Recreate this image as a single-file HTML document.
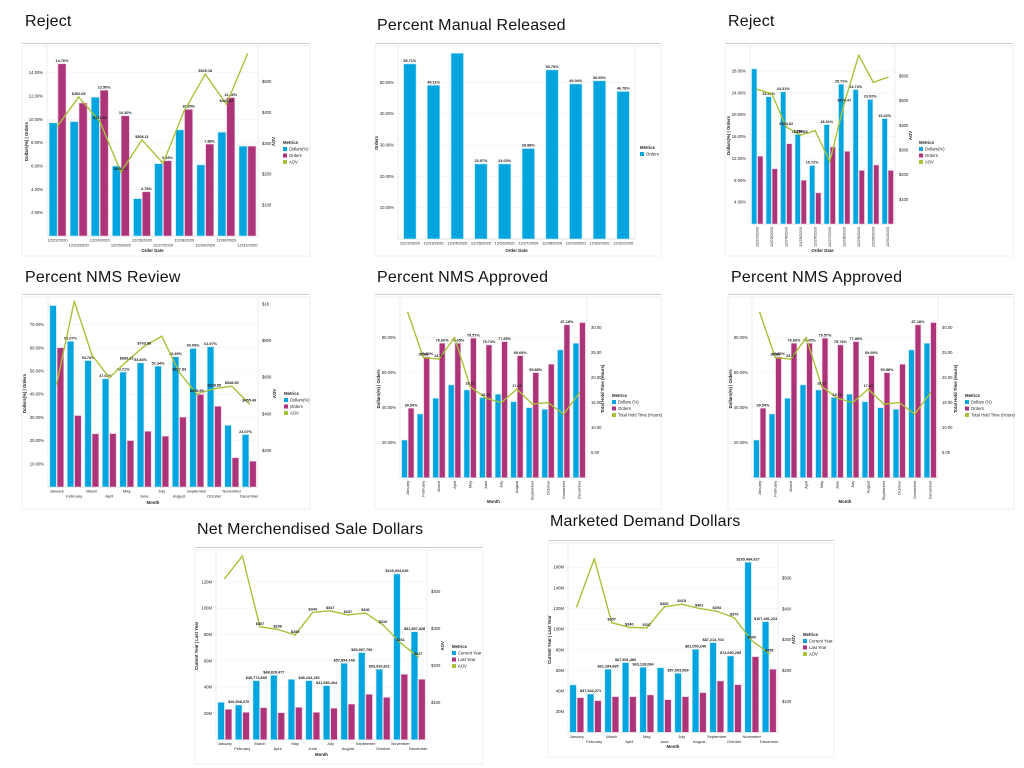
<!DOCTYPE html>
<html><head><meta charset="utf-8">
<style>
html,body{margin:0;padding:0;background:#fff;}
body{width:1024px;height:768px;overflow:hidden;position:relative;font-family:"Liberation Sans",sans-serif;}
.title{position:absolute;font-size:16px;color:#111;letter-spacing:0.2px;}
.rule{position:absolute;height:1px;background:#cfcfcf;}
svg{position:absolute;left:0;top:0;}
</style></head>
<body>
<div class="title" style="left:25px;top:13px;">Reject</div>
<div class="rule" style="left:22px;top:43px;width:288px;"></div>
<div class="title" style="left:377px;top:17px;">Percent Manual Released</div>
<div class="rule" style="left:375px;top:43px;width:286px;"></div>
<div class="title" style="left:728px;top:13px;">Reject</div>
<div class="rule" style="left:725px;top:43px;width:288px;"></div>
<div class="title" style="left:25px;top:269px;">Percent NMS Review</div>
<div class="rule" style="left:22px;top:294px;width:288px;"></div>
<div class="title" style="left:377px;top:269px;">Percent NMS Approved</div>
<div class="rule" style="left:375px;top:294px;width:286px;"></div>
<div class="title" style="left:731px;top:269px;">Percent NMS Approved</div>
<div class="rule" style="left:728px;top:294px;width:286px;"></div>
<div class="title" style="left:197px;top:521px;">Net Merchendised Sale Dollars</div>
<div class="rule" style="left:195px;top:547px;width:288px;"></div>
<div class="title" style="left:550px;top:513px;">Marketed Demand Dollars</div>
<div class="rule" style="left:548px;top:540px;width:286px;"></div>

<svg id="main" width="1024" height="768"></svg>

<script>
// ---------- data ----------
const dates = ["12/22/2020","12/23/2020","12/24/2020","12/25/2020","12/26/2020","12/27/2020","12/28/2020","12/29/2020","12/30/2020","12/31/2020"];
const months = ["January","February","March","April","May","June","July","August","September","October","November","December"];

const p1Dollars = [9.7,9.8,11.9,6.0,3.2,6.2,9.1,6.1,8.9,7.7];
const p1Orders = [14.76,11.4,12.5,10.3,3.79,6.45,10.85,7.88,11.86,7.7];
const p1Aov = [356,450,372,207,311,236,405,524,427,589];
const p1OrderLabels = ["14.76%",null,"12.50%","10.30%","3.79%","6.45%","10.85%","7.88%","11.86%",null];
const p1AovLabels = [null,"$452.65","$373.36","$208.47","$308.11",null,null,"$525.18","$423.84",null];
const p1LeftTicks = [2,4,6,8,10,12,14];
const p1RightTicks = [100,200,300,400,500];

const p2Orders = [55.9,49.1,59.3,23.96,23.96,28.9,54.0,49.5,50.5,47.1];
const p2Labels = ["55.71%","49.11%",null,"23.97%","24.03%","28.88%","53.75%","49.04%","50.00%","46.78%"];
const p2LeftTicks = [10,20,30,40,50];

const p3Dollars = [28.4,23.3,24.2,16.4,10.7,18.2,25.6,24.6,22.8,19.3];
const p3Orders = [12.4,10.1,14.7,8.0,5.7,14.1,13.3,9.8,10.8,9.8];
const p3Aov = [545,528,393,360,378,253,489,684,574,594];
const p3DollarLabels = [null,"23.96%","24.31%","16.75%","10.72%","18.31%","25.72%","24.74%","23.02%","19.42%"];
const p3AovLabels = [null,null,"$393.62","$359.25",null,null,"$470.47",null,null,null];
const p3LeftTicks = [4,8,12,16,20,24,28];
const p3RightTicks = [100,200,300,400,500,600];

const p4Dollars = [78.2,62.8,54.5,46.6,49.5,53.5,52.1,56.1,59.7,60.4,26.6,22.6];
const p4Orders = [60,30.8,22.9,23,20,24,21.9,30.1,39.9,34.8,12.6,11.1];
const p4Aov = [564,1015,724,597,687,769,824,627,509,537,551,455];
const p4DollarLabels = [null,"63.07%","54.78%","47.03%","49.71%","53.84%","52.34%","56.49%","60.09%","61.07%",null,"23.07%"];
const p4AovLabels = [null,null,null,null,"$689.22","$763.88",null,"$627.84","$508.99","$538.58","$548.55","$455.49"];
const p4LeftTicks = [10,20,30,40,50,60,70];
const p4RightTicks = [200,400,600,800,1000];
const p4RightTickLabels = ["$200","$400","$600","$800","$1K"];

const p5Dollars = [21.5,36.4,45.4,53,50.1,45.8,47.7,43.4,40,39.1,73,76.8];
const p5Orders = [39.7,69.1,76.8,76.8,79.7,75.8,77.7,69.7,60,64.8,87.3,88.6];
const p5Hold = [33,24,23.7,28,18.2,15.9,15,17.7,14.7,15,12.7,16.9];
const p5OrderLabels = ["39.54%","68.82%","76.60%","76.65%","79.57%","75.74%","77.85%","69.69%","59.88%",null,"87.18%",null];
const p5HoldLabels = [null,"23.83","23.71",null,"18.21","15.70",null,"17.44",null,null,null,null];
const p5LeftTicks = [20,40,60,80];
const p5RightTicks = [5,10,15,20,25,30];

const p7Current = [28.4,26.4,44.9,49,45.9,44.9,41.1,58.1,66.2,53.5,126,82.1];
const p7Last = [23.1,20.8,24.3,20.5,24.6,20.8,23.9,27.1,34.5,32.2,49.7,45.9];
const p7Aov = [436,496,305,298,283,344,348,337,342,310,261,224];
const p7CurrentLabels = [null,"$26,508,076","$45,774,895","$48,828,477",null,"$45,244,150","$41,080,404","$57,894,748","$65,997,796","$53,410,821","$125,934,626","$81,857,828"];
const p7AovLabels = [null,null,"$307","$298","$285","$344","$347","$337","$340","$310","$261","$227"];
const p7LeftTicks = [20,40,60,80,100,120];
const p7RightTicks = [100,200,300,400];

const p8Current = [45.9,37.1,61.1,67.5,63,62.6,57.2,80.5,86.9,74,164.8,107.2];
const p8Last = [33.5,30.6,34.5,34.5,36.2,31.6,34.5,38.4,49.7,46.1,73.3,61.1];
const p8Aov = [407,562,355,340,338,406,415,401,392,371,297,255];
const p8CurrentLabels = [null,"$37,342,271","$61,284,685","$67,501,480","$63,128,084",null,"$57,003,569","$81,059,240","$87,214,703","$74,050,285","$165,484,627","$107,491,224"];
const p8AovLabels = [null,null,"$357","$340","$337","$406","$415","$402","$393","$370","$300","$258"];
const p8LeftTicks = [20,40,60,80,100,120,140,160];
const p8RightTicks = [100,200,300,400,500];

// ---------- rendering ----------
const BLUE="#00a5e0", MAG="#ad3478", LIME="#a7c23a";
const svg=document.getElementById('main');
const NS="http://www.w3.org/2000/svg";
function mk(tag,attrs,parent){const e=document.createElementNS(NS,tag);for(const k in attrs)e.setAttribute(k,attrs[k]);parent.appendChild(e);return e;}
function txt(s,x,y,size,parent,extra){const t=mk('text',Object.assign({x:x,y:y,'font-size':size,'font-family':'Liberation Sans, sans-serif',fill:'#222'},extra||{}),parent);t.textContent=s;return t;}

function chart(c){
  const g=mk('g',{},svg);
  
  
  const card=mk('rect',{x:c.cx,y:c.cy,width:c.cw,height:c.ch,fill:'#fff',stroke:'#ececec','stroke-width':0.8},g);
  
  
  const n=c.cats.length, gw=(c.r-c.l)/n;
  const yL=v=>c.b-v/c.lMax*(c.b-c.t);
  const yR=v=>c.b-v/c.rMax*(c.b-c.t);
  // grid + left ticks
  c.lTicks.forEach((v,i)=>{
    const y=yL(v);
    const gl=mk('line',{x1:c.l,x2:c.r,y1:y,y2:y,stroke:'#f2f2f2','stroke-width':0.6},g);
    
    
    const t=txt(c.lFmt(v),c.l-4,y+1.5,4.2,g,{'text-anchor':'end'});
    
    
  });
  if(c.rTicks){c.rTicks.forEach((v,i)=>{
    const t=txt(c.rFmt(v,i),c.r+4,yR(v)+1.5,4.2,g);
    
    
  });}
  mk('line',{x1:c.l,x2:c.l,y1:c.t-2,y2:c.b,stroke:'#e4e4e4','stroke-width':0.7},g);
  mk('line',{x1:c.r,x2:c.r,y1:c.t-2,y2:c.b,stroke:'#e4e4e4','stroke-width':0.7},g);
  mk('line',{x1:c.l,x2:c.r,y1:c.b,y2:c.b,stroke:'#dcdcdc','stroke-width':0.7},g);
  // bars
  const ns=c.series.length;
  const bw=gw*(ns===1?0.56:0.42);
  c.series.forEach((s,si)=>{
    s.data.forEach((v,i)=>{
      const x=c.l+gw*i+gw/2-(ns*bw)/2+si*bw;
      const y=yL(v);
      const rc=mk('rect',{x:x+0.4,y:y,width:bw-0.8,height:c.b-y,fill:s.color,stroke:s.stroke,'stroke-width':0.6},g);
      
      
      if(s.labels&&s.labels[i]){
        const t=txt(s.labels[i],x+bw/2,y-1.8,3.8,g,{'text-anchor':'middle','font-weight':'bold'});
        
        
      }
    });
  });
  // line
  if(c.line){
    const pts=c.line.data.map((v,i)=>(c.l+gw*i+gw/2)+','+yR(v)).join(' ');
    const pl=mk('polyline',{points:pts,fill:'none',stroke:LIME,'stroke-width':1.4,'stroke-linejoin':'round'},g);
    
    
    c.line.data.forEach((v,i)=>{
      const x=c.l+gw*i+gw/2, y=yR(v);
      const p=mk('circle',{cx:x,cy:y,r:0.9,fill:LIME},g);
      
      
      if(c.line.labels&&c.line.labels[i]){
        const t=txt(c.line.labels[i],x,y-2,3.8,g,{'text-anchor':'middle','font-weight':'bold'});
        
        
      }
    });
  }
  // x labels
  c.cats.forEach((s,i)=>{
    const x=c.l+gw*i+gw/2;
    let t;
    if(c.rot){
      t=txt(s,x+1.3,c.b+3,4,g,{'text-anchor':'end',transform:'rotate(-90 '+(x+1.3)+' '+(c.b+3)+')'});
    } else {
      const y=c.b+5.5+(c.stagger&&i%2===1?5:0);
      t=txt(s,x,y,4,g,{'text-anchor':'middle'});
    }
    
    
  });
  // axis titles
  const xt=txt(c.xTitle,(c.l+c.r)/2,c.xTitleY,4.3,g,{'text-anchor':'middle','font-weight':'bold'});
  
  
  const ym=(c.t+c.b)/2;
  const yt=txt(c.yTitle,c.yTitleX,ym,4.3,g,{'text-anchor':'middle','font-weight':'bold',transform:'rotate(-90 '+c.yTitleX+' '+ym+')'});
  
  
  if(c.y2Title){
    const y2=txt(c.y2Title,c.y2TitleX,ym,4.3,g,{'text-anchor':'middle','font-weight':'bold',transform:'rotate(-90 '+c.y2TitleX+' '+ym+')'});
    
    
  }
  // legend
  const lt=txt('Metrics',c.lgX,c.lgY,4.3,g,{'font-weight':'bold'});
  
  
  c.legend.forEach((it,i)=>{
    const y=c.lgY+6.5*(i+1);
    const sw=mk('rect',{x:c.lgX,y:y-3.5,width:4,height:4,fill:it.color},g);
    
    
    const t=txt(it.label,c.lgX+6,y,4.2,g);
    
    
  });
}
const pct=v=>v.toFixed(2)+'%';
const usd=v=>'$'+v;
const dol={key:'dollars',color:BLUE,stroke:'#bfe9f7'};
const ord={key:'orders',color:MAG,stroke:'#eec3dc'};
const lgDO=[{label:'Dollars(%)',color:BLUE},{label:'Orders',color:MAG},{label:'AOV',color:LIME}];

chart({name:'reject-chart-1',cx:22,cy:46,cw:288,ch:210,l:47,r:258,t:47,b:236,lMax:16.2,rMax:612,
  cats:dates,stagger:true,lTicks:p1LeftTicks,lFmt:pct,rTicks:p1RightTicks,rFmt:usd,
  series:[Object.assign({data:p1Dollars},dol),Object.assign({data:p1Orders,labels:p1OrderLabels},ord)],
  line:{key:'aov',data:p1Aov,labels:p1AovLabels},
  xTitle:'Order Date',xTitleY:252,yTitle:'Dollars(%) | Orders',yTitleX:28,y2Title:'AOV',y2TitleX:275,
  lgX:283,lgY:144,legend:lgDO});

chart({name:'percent-manual-released-chart',cx:375,cy:46,cw:286,ch:210,l:398,r:635,t:47,b:239,lMax:61.3,rMax:1,
  cats:dates,stagger:false,lTicks:p2LeftTicks,lFmt:pct,
  series:[Object.assign({data:p2Orders,labels:p2Labels},dol,{key:'orders'})],
  xTitle:'Order Date',xTitleY:252,yTitle:'Orders',yTitleX:378,
  lgX:640,lgY:149,legend:[{label:'Orders',color:BLUE}]});

chart({name:'reject-chart-2',cx:725,cy:46,cw:288,ch:210,l:750,r:895,t:47,b:224,lMax:32.4,rMax:717,
  cats:dates,rot:true,lTicks:p3LeftTicks,lFmt:pct,rTicks:p3RightTicks,rFmt:usd,
  series:[Object.assign({data:p3Dollars,labels:p3DollarLabels},dol),Object.assign({data:p3Orders},ord)],
  line:{key:'aov',data:p3Aov,labels:p3AovLabels},
  xTitle:'Order Date',xTitleY:252,yTitle:'Dollars(%) | Orders',yTitleX:730,y2Title:'AOV',y2TitleX:912,
  lgX:919,lgY:144,legend:lgDO});

chart({name:'percent-nms-review-chart',cx:22,cy:297,cw:288,ch:212,l:48,r:258,t:300,b:487,lMax:80.6,rMax:1022,
  cats:months,stagger:true,lTicks:p4LeftTicks,lFmt:pct,rTicks:p4RightTicks,rFmt:(v,i)=>p4RightTickLabels[i],
  series:[Object.assign({data:p4Dollars,labels:p4DollarLabels},dol),Object.assign({data:p4Orders},ord)],
  line:{key:'aov',data:p4Aov,labels:p4AovLabels},
  xTitle:'Month',xTitleY:504,yTitle:'Dollars(%) | Orders',yTitleX:26,y2Title:'AOV',y2TitleX:276,
  lgX:284,lgY:395,legend:lgDO});

const lgHold=[{label:'Dollars (%)',color:BLUE},{label:'Orders',color:MAG},{label:'Total Hold Time (Hours)',color:LIME}];
[['percent-nms-approved-chart-1',375,400,587,612,604,377],['percent-nms-approved-chart-2',728,752,938,965,957,729]].forEach(p=>{
  chart({name:p[0],cx:p[1],cy:297,cw:286,ch:212,l:p[2],r:p[3],t:300,b:477.7,lMax:101.5,rMax:35.5,
    cats:months,rot:true,lTicks:p5LeftTicks,lFmt:pct,rTicks:p5RightTicks,rFmt:v=>v.toFixed(2),
    series:[Object.assign({data:p5Dollars},dol),Object.assign({data:p5Orders,labels:p5OrderLabels},ord)],
    line:{key:'hold-time',data:p5Hold,labels:p5HoldLabels},
    xTitle:'Month',xTitleY:503,yTitle:'Dollars(%) | Orders',yTitleX:p[6]+3,y2Title:'Total Hold Time (Hours)',y2TitleX:p[5],
    lgX:p[4],lgY:397,legend:lgHold});
});

const lgCY=[{label:'Current Year',color:BLUE},{label:'Last Year',color:MAG},{label:'AOV',color:LIME}];
const cy={key:'current-year',color:BLUE,stroke:'#bfe9f7'};
const ly={key:'last-year',color:MAG,stroke:'#eec3dc'};
chart({name:'net-merchandised-sale-dollars-chart',cx:195,cy:550,cw:288,ch:214,l:216,r:427,t:552,b:739.7,lMax:142.7,rMax:507,
  cats:months,stagger:true,lTicks:p7LeftTicks,lFmt:v=>v+'M',rTicks:p7RightTicks,rFmt:usd,
  series:[Object.assign({data:p7Current,labels:p7CurrentLabels},cy),Object.assign({data:p7Last},ly)],
  line:{key:'aov',data:p7Aov,labels:p7AovLabels},
  xTitle:'Month',xTitleY:756,yTitle:'Current Year | Last Year',yTitleX:198,y2Title:'AOV',y2TitleX:444,
  lgX:452,lgY:648,legend:lgCY});

chart({name:'marketed-demand-dollars-chart',cx:548,cy:543,cw:286,ch:214,l:568,r:778,t:547,b:732.3,lMax:179.6,rMax:600,
  cats:months,stagger:true,lTicks:p8LeftTicks,lFmt:v=>v+'M',rTicks:p8RightTicks,rFmt:usd,
  series:[Object.assign({data:p8Current,labels:p8CurrentLabels},cy),Object.assign({data:p8Last},ly)],
  line:{key:'aov',data:p8Aov,labels:p8AovLabels},
  xTitle:'Month',xTitleY:748,yTitle:'Current Year | Last Year',yTitleX:551,y2Title:'AOV',y2TitleX:795,
  lgX:803,lgY:636,legend:lgCY});
</script>
</body></html>
